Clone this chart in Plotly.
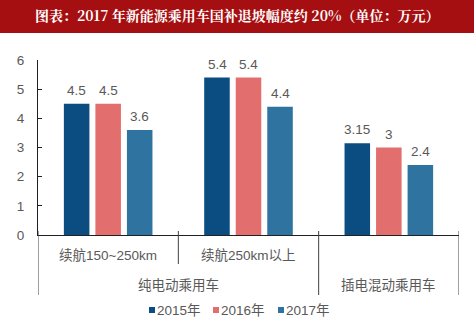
import plotly.graph_objects as go

categories = ["续航150~250km", "续航250km以上", "插电"]
sub_labels = ["续航150~250km", "续航250km以上", ""]
group_labels = ["纯电动乘用车", "插电混动乘用车"]
group_centers = [0.5, 2]
series_names = ["2015年", "2016年", "2017年"]
v2015 = [4.5, 5.4, 3.15]
v2016 = [4.5, 5.4, 3]
v2017 = [3.6, 4.4, 2.4]
colors = ["#0B4D80", "#E36E6E", "#2F73A0"]
title = "图表：2017 年新能源乘用车国补退坡幅度约 20%（单位：万元）"

FONT = "Liberation Sans, Arial, Noto Sans CJK SC"
GREY = "#595959"

W, H = 474, 329
ML, MR, MT, MB = 38, 15, 60, 94
PW = W - ML - MR
PH = H - MT - MB

def py(px):
    # pixel y from top -> paper coord
    return (H - MB - px) / PH

def pxx(px):
    return (px - ML) / PW

fig = go.Figure()
slot = 31.5
for i, (name, vals, c) in enumerate(zip(series_names, [v2015, v2016, v2017], colors)):
    fig.add_trace(go.Bar(
        x=categories, y=vals, name=name, marker_color=c,
        marker_line_width=0, showlegend=False,
    ))

shapes = []
ann = []
# banner
shapes.append(dict(type="rect", xref="paper", yref="paper",
                   x0=pxx(0), x1=pxx(W), y0=py(33), y1=py(0),
                   fillcolor="#A50F11", line_width=0, layer="below"))
# dividers
for x, bottom in [(-0.5, 295), (0.5, 264), (1.5, 295), (2.5, 295)]:
    shapes.append(dict(type="line", xref="x", yref="paper", x0=x, x1=x,
                       y0=py(231), y1=py(bottom), line=dict(color="#404040", width=1)))

# value labels
for i, vals in enumerate([v2015, v2016, v2017]):
    for c, v in zip(categories, vals):
        ann.append(dict(text=f"{v:g}", xref="x", yref="y", x=c, y=v,
                        xshift=(i - 1) * slot, yshift=4, showarrow=False,
                        xanchor="center", yanchor="bottom",
                        font=dict(size=13.5, color=GREY, family=FONT)))

ann.append(dict(text="<b>" + title + "</b>", xref="paper", yref="paper",
                x=pxx(237), y=py(15), showarrow=False,
                xanchor="center", yanchor="middle",
                font=dict(size=14, color="white", family="Noto Serif CJK SC, Noto Sans CJK SC")))
for c, lab in zip(categories, sub_labels):
    if lab:
        ann.append(dict(text=lab, xref="x", yref="paper", x=c, y=py(255), showarrow=False,
                        xanchor="center", yanchor="middle",
                        font=dict(size=13.5, color=GREY, family=FONT)))
for xc, lab in zip(group_centers, group_labels):
    ann.append(dict(text=lab, xref="x", yref="paper", x=xc, y=py(285), showarrow=False,
                    xanchor="center", yanchor="middle",
                    font=dict(size=13.5, color=GREY, family=FONT)))

# legend (squares + text)
leg_x = [149, 213, 278]
for lx, name, c in zip(leg_x, series_names, colors):
    shapes.append(dict(type="rect", xref="paper", yref="paper",
                       x0=pxx(lx), x1=pxx(lx + 6), y0=py(313), y1=py(307),
                       fillcolor=c, line_width=0))
    ann.append(dict(text=name, xref="paper", yref="paper", x=pxx(lx + 6), y=py(310),
                    showarrow=False, xanchor="left", yanchor="middle",
                    font=dict(size=13.5, color=GREY, family=FONT)))

fig.update_layout(
    width=W, height=H,
    margin=dict(l=ML, r=MR, t=MT, b=MB, autoexpand=False),
    paper_bgcolor="white", plot_bgcolor="white",
    barmode="group", bargap=0.326, bargroupgap=0.19,
    showlegend=False,
    xaxis=dict(type="category", range=[-0.5, 2.5], showticklabels=False,
               showline=True, linecolor="#202020", linewidth=1, ticks="",
               showgrid=False, zeroline=False, fixedrange=True),
    yaxis=dict(range=[0, 6], dtick=1, showline=True, linecolor="#202020", linewidth=1,
               ticks="inside", ticklen=4, tickcolor="#202020", showgrid=False,
               zeroline=False, automargin=False, ticklabelstandoff=10,
               tickfont=dict(size=13.5, color=GREY, family=FONT)),
    shapes=shapes, annotations=ann,
)

fig.write_html("out.html")
